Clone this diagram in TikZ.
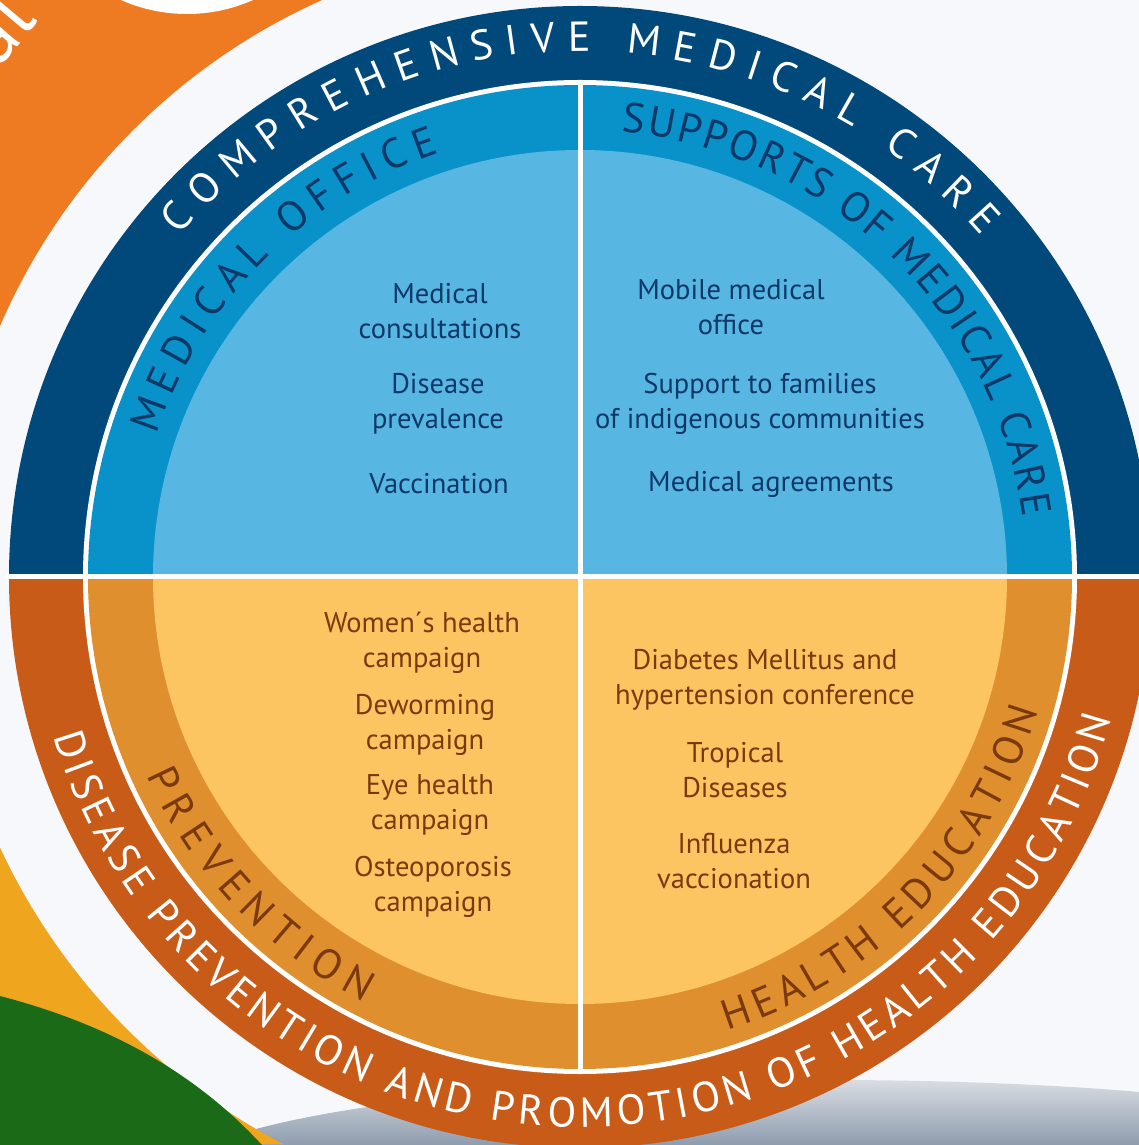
\documentclass[tikz,border=0pt]{standalone}
\usepackage{fontspec}
\setmainfont{PT Sans}
\usetikzlibrary{decorations.text}

\definecolor{ringblue}{HTML}{00497A}
\definecolor{bandblue}{HTML}{0892C9}
\definecolor{skyblue}{HTML}{58B7E2}
\definecolor{ringrust}{HTML}{C85B18}
\definecolor{bandorange}{HTML}{E08F2E}
\definecolor{sandy}{HTML}{FDC462}
\definecolor{navytext}{HTML}{0D3868}
\definecolor{browntext}{HTML}{7B3A0E}
\definecolor{swoosh}{HTML}{EE7B22}
\definecolor{mustard}{HTML}{EFA61E}
\definecolor{leaf}{HTML}{1B6A17}
\definecolor{paper}{HTML}{F6F8FB}
\definecolor{floortop}{HTML}{E6E8EB}
\definecolor{floorbot}{HTML}{8D9CAE}

\newcommand{\ringfont}{\fontsize{42}{42}\selectfont}

\tikzset{
  item/.style={align=center, font=\fontsize{28.5}{35}\selectfont, inner sep=0pt},
  blueitem/.style={item, text=navytext},
  brownitem/.style={item, text=browntext},
  ringtext/.style={decorate, decoration={text along path, text align=center, text={#1}}},
}

\begin{document}
\begin{tikzpicture}[x=1pt, y=1pt]
                
                 \useasboundingbox (-580,-568) rectangle (559,577);
                 \clip (-580,-568) rectangle (559,577);
                 \fill[paper] (-580,-568) rectangle (559,577);
                 \shade[top color=floortop, bottom color=floorbot] (-373,-568) .. controls (-200,-498) and (300,-492) .. (559,-515) -- (559,-568) -- cycle;
                 \fill[swoosh] (-580,577) -- (-580,251) arc[start angle=156.6, end angle=113.9, radius=632] -- cycle;
                 \fill[white] (-393,725) circle[radius=162];
                    \node[white, font=\fontsize{80}{80}\selectfont, rotate=50, anchor=base west] (logo) at (-584,505) {al};
                 \fill[mustard] (-580,-568) -- (-580,-270.6) arc[start angle=205, end angle=242.4, radius=640] -- cycle;
                 \fill[leaf] (-580,-419) .. controls (-480,-445) and (-390,-490) .. (-318,-568) -- (-580,-568) -- cycle;
                
                 % rings
                 \fill[ringblue] (571,0) arc[start angle=0, end angle=180, radius=571] -- cycle;
                 \fill[ringrust] (-571,0) arc[start angle=180, end angle=360, radius=571] -- cycle;
                 \fill[white] (0,0) circle[radius=497];
                 \fill[bandblue] (492,0) arc[start angle=0, end angle=180, radius=492] -- cycle;
                 \fill[bandorange] (-492,0) arc[start angle=180, end angle=360, radius=492] -- cycle;
                 \fill[skyblue] (427,0) arc[start angle=0, end angle=180, radius=427] -- cycle;
                 \fill[sandy] (-427,0) arc[start angle=180, end angle=360, radius=427] -- cycle;
                 \draw[white, line width=5] (-575,0) -- (575,0);
                 \draw[white, line width=5] (0,-492) -- (0,492);
                
                 % ring titles
                 \path[ringtext={|\ringfont\color{white}\kern12.4pt|COMPREHENSIVE MEDICAL CARE}] (170.6:526) arc[start angle=170.6, end angle=10.6, radius=526];
                 \path[ringtext={|\ringfont\color{white}\kern4.6pt|DISEASE PREVENTION AND PROMOTION OF HEALTH EDUCATION}] (185.7:550) arc[start angle=185.7, end angle=355.7, radius=550];
                 \path[ringtext={|\ringfont\color{navytext}\kern8.2pt|MEDICAL OFFICE}] (175.4:447) arc[start angle=175.4, end angle=95.4, radius=447];
                 \path[ringtext={|\ringfont\color{navytext}\kern2.6pt|SUPPORTS OF MEDICAL CARE}] (96.3:447) arc[start angle=96.3, end angle=-3.7, radius=447];
                 \path[ringtext={|\ringfont\color{browntext}\kern9.1pt|PREVENTION}] (198.3:477) arc[start angle=198.3, end angle=248.3, radius=477];
                 \path[ringtext={|\ringfont\color{browntext}\kern5.7pt|HEALTH EDUCATION}] (280.5:477) arc[start angle=280.5, end angle=350.5, radius=477];
                
                 % quadrant items
                    \node[blueitem] (consult) at (-140,266) {Medical\\consultations};
                    \node[blueitem] (prevalence) at (-142,173) {Disease\\prevalence};
                    \node[blueitem] (vaccine) at (-141,93) {Vaccination};
                    \node[blueitem] (mobile) at (151,270) {Mobile medical\\office};
                    \node[blueitem] (families) at (180,173) {Support to families\\of indigenous communities};
                    \node[blueitem] (agreements) at (191,93) {Medical agreements};
                    \node[brownitem] (women) at (-158,-66) {Women\textasciiacute s health\\campaign};
                    \node[brownitem] (deworm) at (-155,-148) {Deworming\\campaign};
                    \node[brownitem] (eyes) at (-150,-228) {Eye health\\campaign};
                    \node[brownitem] (osteo) at (-147,-310) {Osteoporosis\\campaign};
                    \node[brownitem] (diabetes) at (185,-103) {Diabetes Mellitus and\\hypertension conference};
                    \node[brownitem] (tropical) at (155,-193) {Tropical\\Diseases};
                    \node[brownitem] (flu) at (154,-284) {Influenza\\vaccionation};
                
                \end{tikzpicture}
\end{document}
